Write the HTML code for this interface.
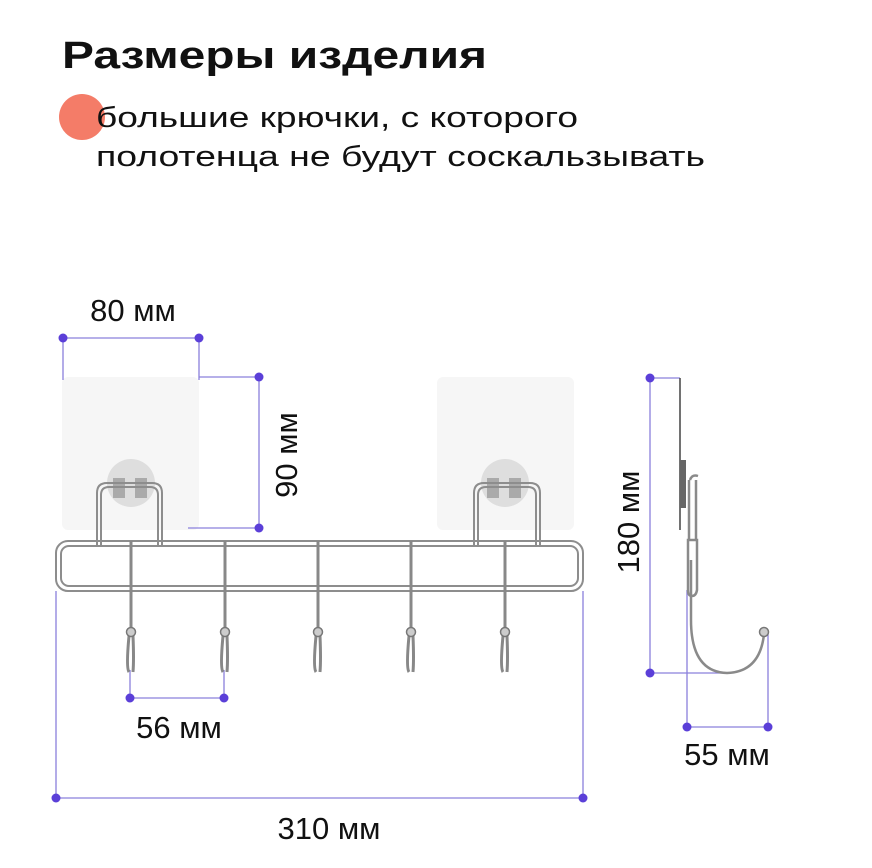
<!DOCTYPE html>
<html><head><meta charset="utf-8"><style>
html,body{margin:0;padding:0;background:#fff;}
svg{display:block;}
text{font-family:"Liberation Sans","DejaVu Sans",sans-serif;fill:#111;}
</style></head><body>
<svg width="872" height="868" viewBox="0 0 872 868" xmlns="http://www.w3.org/2000/svg">
<text x="62" y="68" font-size="38" font-weight="bold" textLength="425" lengthAdjust="spacingAndGlyphs">Размеры изделия</text>
<circle cx="82" cy="117" r="23" fill="#f47c68"/>
<text x="96" y="127" font-size="29" textLength="482" lengthAdjust="spacingAndGlyphs">большие крючки, с которого</text>
<text x="96" y="166" font-size="29" textLength="609" lengthAdjust="spacingAndGlyphs">полотенца не будут соскальзывать</text>

<rect x="62" y="377" width="137" height="153" rx="6" fill="#f6f6f6"/>
<rect x="437" y="377" width="137" height="153" rx="6" fill="#f6f6f6"/>
<circle cx="131" cy="483" r="24" fill="#dedede"/>
<circle cx="505" cy="483" r="24" fill="#dedede"/>
<g fill="#aaa"><rect x="113" y="478" width="12" height="20"/><rect x="135" y="478" width="12" height="20"/><rect x="487" y="478" width="12" height="20"/><rect x="509" y="478" width="12" height="20"/></g>

<g stroke="#8a80dc" stroke-width="1.3" fill="none">
<path d="M63 338H199M63 338V380M199 338V380"/>
<path d="M199 377H259V528H188"/>
<path d="M130 670V698H224V670"/>
<path d="M56 591V798H583V591"/>
<path d="M680 378H650V673H727"/>
<path d="M687 590V727H768V632"/>
</g>
<g fill="#5b3fd8">
<circle cx="63" cy="338" r="4.5"/><circle cx="199" cy="338" r="4.5"/>
<circle cx="259" cy="377" r="4.5"/><circle cx="259" cy="528" r="4.5"/>
<circle cx="130" cy="698" r="4.5"/><circle cx="224" cy="698" r="4.5"/>
<circle cx="56" cy="798" r="4.5"/><circle cx="583" cy="798" r="4.5"/>
<circle cx="650" cy="378" r="4.5"/><circle cx="650" cy="673" r="4.5"/>
<circle cx="687" cy="727" r="4.5"/><circle cx="768" cy="727" r="4.5"/>
</g>

<g stroke="#8d8d8d" fill="none" stroke-width="2">
<rect x="56" y="541" width="527" height="50" rx="12"/>
<rect x="61" y="546" width="517" height="40" rx="8"/>
<path d="M97 545V493Q97 483 107 483H152Q162 483 162 493V545"/>
<path d="M101 545V495Q101 487 109 487H150Q158 487 158 495V545"/>
<path d="M474 545V493Q474 483 484 483H530Q540 483 540 493V545"/>
<path d="M478 545V495Q478 487 486 487H528Q536 487 536 495V545"/>
</g>
<g stroke="#888" fill="none" stroke-width="3">
<path d="M131 541V632M129 636Q126 668 129 672M133 636Q134 660 133 672"/>
<path d="M225 541V632M223 636Q220 668 223 672M227 636Q228 660 227 672"/>
<path d="M318 541V632M316 636Q313 668 316 672M320 636Q321 660 320 672"/>
<path d="M411 541V632M409 636Q406 668 409 672M413 636Q414 660 413 672"/>
<path d="M505 541V632M503 636Q500 668 503 672M507 636Q508 660 507 672"/>
</g>
<g fill="#ccc" stroke="#777" stroke-width="1.5">
<circle cx="131" cy="632" r="4.5"/><circle cx="225" cy="632" r="4.5"/><circle cx="318" cy="632" r="4.5"/><circle cx="411" cy="632" r="4.5"/><circle cx="505" cy="632" r="4.5"/>
</g>

<path d="M680 378V530" stroke="#444" stroke-width="1.5"/>
<rect x="680" y="460" width="6" height="48" fill="#666"/>
<g stroke="#8a8a8a" fill="none" stroke-width="2.5">
<path d="M689 480V540M696 480V540"/>
<path d="M690 480Q692 474 698 476"/>
<path d="M688 540V590Q688 596 692 596Q696 596 697 590V540Z"/>
<path d="M691 560V620Q691 672 727 673Q760 672 764 634"/>
</g>
<circle cx="764" cy="632" r="4.5" fill="#ccc" stroke="#777" stroke-width="1.5"/>

<g font-size="31">
<text x="133" y="321" text-anchor="middle">80 мм</text>
<text x="179" y="738" text-anchor="middle">56 мм</text>
<text x="329" y="839" text-anchor="middle">310 мм</text>
<text x="727" y="765" text-anchor="middle">55 мм</text>
<text transform="translate(297 455) rotate(-90)" text-anchor="middle">90 мм</text>
<text transform="translate(639 522) rotate(-90)" text-anchor="middle">180 мм</text>
</g>
</svg>
</body></html>
